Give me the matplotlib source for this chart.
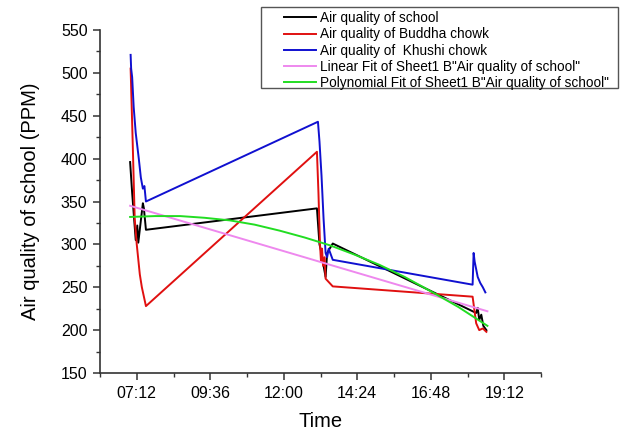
import matplotlib
matplotlib.use('Agg')
import matplotlib.pyplot as plt
import matplotlib.dates as mdates
from matplotlib.patches import Rectangle
from matplotlib.ticker import MultipleLocator
import pandas as pd

plt.rcParams['font.family'] = ['Liberation Sans', 'DejaVu Sans']

day = '2019-01-01 '

school_t = ['06:59', '07:03', '07:10', '07:13', '07:15', '07:24', '07:26', '07:30',
            '13:05', '13:10', '13:14', '13:18', '13:22', '13:25', '13:36',
            '18:17', '18:20', '18:23', '18:27', '18:31', '18:37']
school_v = [396, 360, 305, 322, 302, 348, 342, 317,
            342, 300, 290, 275, 262, 290, 301,
            220, 226, 212, 218, 205, 200]

buddha_t = ['07:00', '07:04', '07:08', '07:12', '07:18', '07:22', '07:30',
            '13:05', '13:08', '13:11', '13:13', '13:15', '13:17', '13:20', '13:22', '13:36',
            '18:10', '18:17', '18:23', '18:30', '18:37']
buddha_v = [505, 420, 330, 300, 265, 250, 228,
            408, 360, 300, 280, 295, 275, 285, 260, 251,
            239, 208, 200, 202, 198]

khushi_t = ['07:00', '07:01', '07:03', '07:06', '07:10', '07:16', '07:20', '07:24', '07:27', '07:30',
            '13:07', '13:10', '13:14', '13:18', '13:22', '13:25', '13:28', '13:36',
            '18:10', '18:12', '18:14', '18:20', '18:25', '18:30', '18:35']
khushi_v = [521, 505, 495, 460, 430, 400, 378, 365, 368, 350,
            443, 420, 380, 330, 290, 285, 295, 282,
            253, 290, 280, 262, 255, 250, 244]

linfit_t = ['06:59', '18:39']
linfit_v = [345, 222]

polyfit_t = ['06:59', '07:48', '08:37', '09:25', '10:14', '11:03', '11:52', '12:41',
             '13:30', '14:19', '15:08', '15:57', '16:46', '17:42', '18:39']
polyfit_v = [332, 333, 333, 331, 328, 323, 316, 308,
             299, 288, 276, 262, 246, 227, 205]

labels = ['Air quality of school', 'Air quality of Buddha chowk', 'Air quality of  Khushi chowk',
          'Linear Fit of Sheet1 B"Air quality of school"',
          'Polynomial Fit of Sheet1 B"Air quality of school"']


def to_dt(times):
    return pd.to_datetime([day + t for t in times])


W, H = 621, 430
fig = plt.figure(figsize=(W / 100, H / 100), dpi=100)
ax = fig.add_axes([100 / W, 57 / H, 441 / W, 343 / H])

lw = 1.4
ax.plot(to_dt(school_t), school_v, color='black', lw=lw, label=labels[0])
ax.plot(to_dt(buddha_t), buddha_v, color='#e01010', lw=lw, label=labels[1])
ax.plot(to_dt(khushi_t), khushi_v, color='#1010d0', lw=lw, label=labels[2])
ax.plot(to_dt(linfit_t), linfit_v, color='#ee88ee', lw=lw, label=labels[3])
ax.plot(to_dt(polyfit_t), polyfit_v, color='#22dd22', lw=lw, label=labels[4])

ax.set_xlim(pd.Timestamp(day + '06:00'), pd.Timestamp(day + '20:24'))
ax.set_ylim(150, 550)

major = to_dt(['07:12', '09:36', '12:00', '14:24', '16:48', '19:12'])
minor = to_dt(['06:00', '08:24', '10:48', '13:12', '15:36', '18:00', '20:24'])
ax.set_xticks(major)
ax.set_xticks(minor, minor=True)
ax.xaxis.set_major_formatter(mdates.DateFormatter('%H:%M'))
ax.yaxis.set_major_locator(MultipleLocator(50))
ax.yaxis.set_minor_locator(MultipleLocator(25))

for s in ['top', 'right']:
    ax.spines[s].set_visible(False)
for s in ['left', 'bottom']:
    ax.spines[s].set_color('#333333')
    ax.spines[s].set_linewidth(1.2)
ax.tick_params(which='major', direction='out', length=5, width=1.1, color='#333333',
               labelsize=11.5, pad=4)
ax.tick_params(which='minor', direction='out', length=3, width=1.0, color='#333333')

ax.set_xlabel('Time', fontsize=14.5, labelpad=8)
ax.set_ylabel('Air quality of school (PPM)', fontsize=14.5, labelpad=15)

# legend frame drawn separately so the box can sit wider than the entries
fig.patches.append(Rectangle((261 / W, 1 - 88 / H), 357 / W, 81 / H,
                             transform=fig.transFigure, facecolor='white',
                             edgecolor='#555555', linewidth=1.0, zorder=5))
leg = fig.legend(loc='upper left', bbox_to_anchor=(284 / W, 1 - 11 / H),
                 fontsize=9.8, frameon=False, borderaxespad=0, borderpad=0,
                 labelspacing=0.17, handlelength=2.35, handletextpad=0.3)
leg.set_zorder(6)

fig.savefig('out.png', dpi=100)
